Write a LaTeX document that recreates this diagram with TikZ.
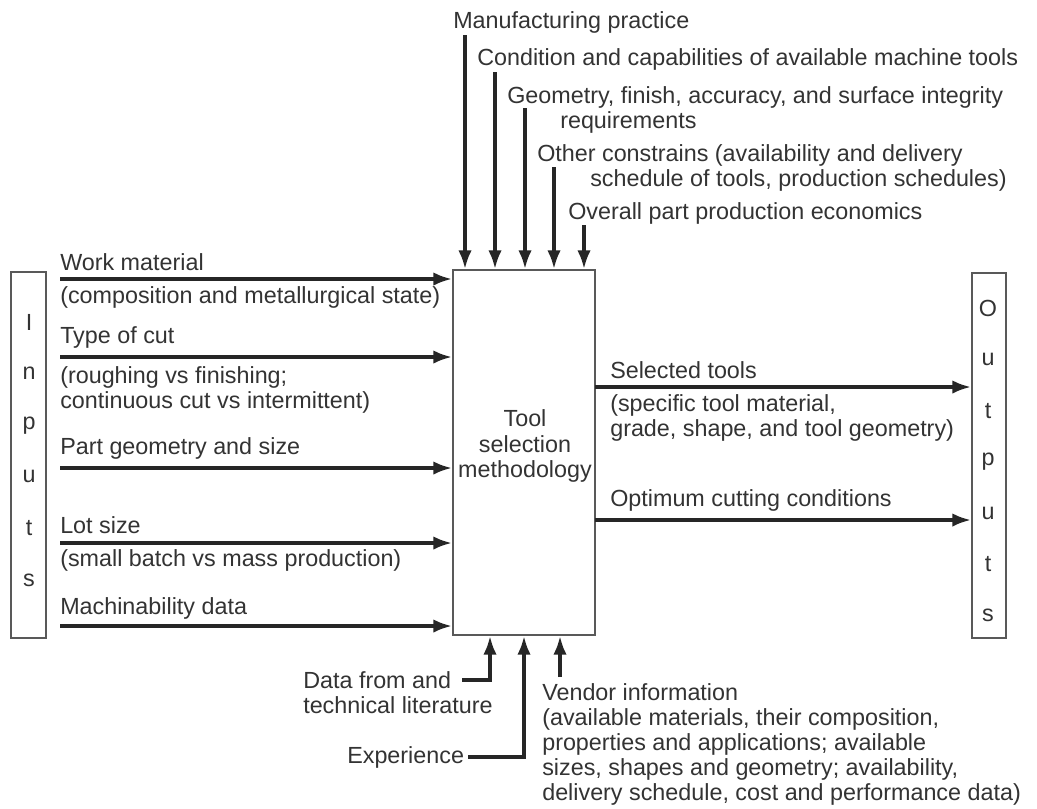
\documentclass[tikz,border=0pt]{standalone}
\usepackage{fontspec}
\setmainfont{Liberation Sans}
\usetikzlibrary{arrows.meta,calc,positioning}
\begin{document}
\begin{tikzpicture}[x=0.75pt,y=-0.75pt,
					font=\fontsize{17.5}{18.8}\selectfont,text=black!80,
					box node/.style = {draw=black!65,line width=1.3pt,inner sep=0pt},
					txt node/.style = {anchor=west,inner sep=0pt,align=left},
					arr/.style = {-{Latex[length=14pt,width=10pt]},line width=2.6pt,draw=black!85}]
					
					\fill[white] (0,0) rectangle (1037,808);
					\useasboundingbox (0,0) rectangle (1037,808);
					
					\node[box node,minimum width=26.25pt,minimum height=274.5pt] (in) at (28.5,455) {};
					\node[box node,minimum width=106.5pt,minimum height=273.75pt] (tool) at (524,452.5) {};
					\node[box node,minimum width=25.5pt,minimum height=273.75pt] (out) at (989,455.5) {};
					\node[align=center,inner sep=0pt] (tt) at (525,446) {Tool\\selection\\methodology};
					
					\foreach \c [count=\i from 0] in {I,n,p,u,t,s}
						\node (in\i) at (29,322+51.6*\i) {\c};
					\foreach \c [count=\i from 0] in {O,u,t,p,u,t,s}
						\node (out\i) at (988,308+51.3*\i) {\c};
					
					\node[txt node] (mp) at (453,22) {Manufacturing practice};
					\node[txt node] (cc) at (477,59) {Condition and capabilities of available machine tools};
					\node[txt node] (gf) at (507,109.5) {Geometry, finish, accuracy, and surface integrity\\\hspace*{39.75pt}requirements};
					\node[txt node] (oc) at (537,167.5) {Other constrains (availability and delivery\\\hspace*{39.75pt}schedule of tools, production schedules)};
					\node[txt node] (oe) at (568,213) {Overall part production economics};
					
					\foreach \x/\y [count=\i] in {465/35,495/72,525/108,554/167,584/225} {
						\coordinate (top\i) at (\x,\y);
						\draw[arr] (top\i) -- (top\i |- tool.north);
					}
					
					\node[txt node] (wm) at (60,262) {Work material};
					\node[txt node] (wm2) at (60,297) {(composition and metallurgical state)};
					\node[txt node] (tc) at (60,337) {Type of cut};
					\node[txt node] (tc2) at (60,389.5) {(roughing vs finishing;\\continuous cut vs intermittent)};
					\node[txt node] (pg) at (60,448) {Part geometry and size};
					\node[txt node] (ls) at (60,525) {Lot size};
					\node[txt node] (ls2) at (60,560) {(small batch vs mass production)};
					\node[txt node] (md) at (60,608) {Machinability data};
					
					\foreach \y [count=\i] in {279,357,468,543,626} {
						\coordinate (w\i) at (60,\y);
						\draw[arr] (w\i) -- (w\i -| tool.west);
					}
					
					\node[txt node] (st) at (610,370) {Selected tools};
					\node[txt node] (st2) at (610,417.5) {(specific tool material,\\grade, shape, and tool geometry)};
					\node[txt node] (occ) at (610,500) {Optimum cutting conditions};
					
					\foreach \y [count=\i] in {387,520} {
						\coordinate (s\i) at (595,\y);
						\draw[arr] (s\i) -- (s\i -| out.west);
					}
					
					\node[txt node] (dl) at (303,692.5) {Data from and\\technical literature};
					\node[txt node] (ex) at (347,757) {Experience};
					\node[txt node] (vi) at (542,744.5) {Vendor information\\(available materials, their composition,\\properties and applications; available\\sizes, shapes and geometry; availability,\\delivery schedule, cost and performance data)};
					
					\coordinate (d0) at (462,680);
					\coordinate (e0) at (468,757);
					\coordinate (v0) at (560,677);
					\draw[arr] (d0) -| ($(tool.south)+(-34,0)$);
					\draw[arr] (e0) -| (tool.south);
					\draw[arr] (v0) -- (v0 |- tool.south);
					
					\end{tikzpicture}
\end{document}
